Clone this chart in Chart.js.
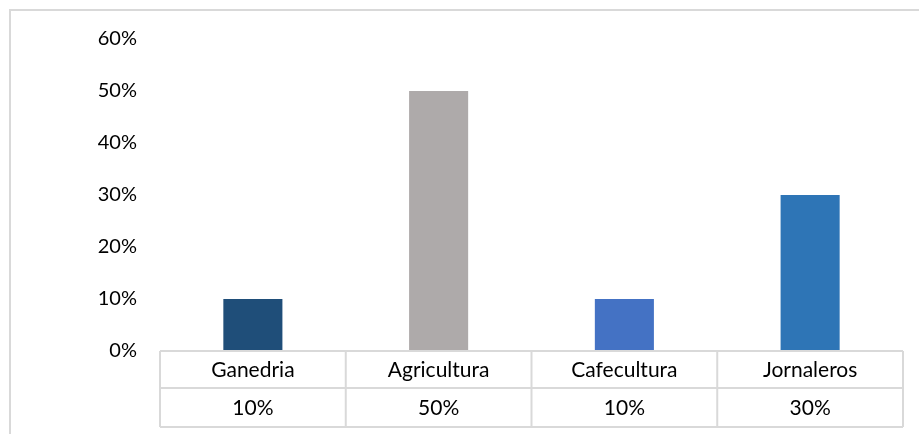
<!DOCTYPE html>
<html>
<head>
<meta charset="utf-8">
<script src="https://cdn.jsdelivr.net/npm/chart.js@4/dist/chart.umd.min.js"></script>
<style>
  html, body { margin: 0; padding: 0; background: #fff; }
  #wrap { width: 919px; height: 434px; position: relative; }
</style>
</head>
<body>
<div id="wrap"><canvas id="chart"></canvas></div>
<script>
  // data
  const categories = ["Ganedria", "Agricultura", "Cafecultura", "Jornaleros"];
  const values = [10, 50, 10, 30];
  const yTicks = [0, 10, 20, 30, 40, 50, 60];

  const barColors = ["#1F4E79", "#AEAAAA", "#4472C4", "#2E75B6"];
  const lineGray = "#D9D9D9";
  const fontFamily = "Lato, 'Liberation Sans', sans-serif";
  const tableFontSize = 21;
  const tickFontSize = 20;

  // table under the bars + outer border
  const dataTable = {
    id: "dataTable",
    beforeDraw(chart) {
      const ctx = chart.ctx;
      ctx.save();
      ctx.strokeStyle = lineGray;
      ctx.lineWidth = 2;
      ctx.beginPath();
      ctx.moveTo(10, 440);
      ctx.lineTo(10, 10);
      ctx.lineTo(930, 10);
      ctx.stroke();
      ctx.restore();
    },
    afterDraw(chart) {
      const ctx = chart.ctx;
      const area = chart.chartArea;
      const x = chart.scales.x;
      const n = categories.length;
      const step = (area.right - area.left) / n;
      const rowH = [37, 39];
      const top = area.bottom;
      const mid = top + rowH[0];
      const bottom = mid + rowH[1];

      ctx.save();
      ctx.strokeStyle = lineGray;
      ctx.lineWidth = 2;
      ctx.beginPath();
      [top, mid, bottom].forEach(function (y) {
        ctx.moveTo(area.left, y);
        ctx.lineTo(area.right, y);
      });
      for (let i = 0; i <= n; i++) {
        const xx = area.left + step * i;
        ctx.moveTo(xx, top);
        ctx.lineTo(xx, bottom);
      }
      ctx.stroke();

      ctx.fillStyle = "#000";
      ctx.font = tableFontSize + "px " + fontFamily;
      ctx.textAlign = "center";
      ctx.textBaseline = "middle";
      categories.forEach(function (c, i) {
        const cx = x.getPixelForValue(i);
        ctx.fillText(c, cx, (top + mid) / 2 + 1);
        ctx.fillText(values[i] + "%", cx, (mid + bottom) / 2 + 1);
      });
      ctx.restore();
    },
  };

  const chart = new Chart(document.getElementById("chart"), {
    type: "bar",
    data: {
      labels: categories,
      datasets: [
        {
          data: values,
          backgroundColor: barColors,
          borderWidth: 0,
          barPercentage: 0.318,
          categoryPercentage: 1,
        },
      ],
    },
    options: {
      responsive: true,
      maintainAspectRatio: false,
      animation: false,
      layout: {
        padding: { left: 0, right: 16, top: 39, bottom: 83 },
      },
      plugins: {
        legend: { display: false },
        tooltip: { enabled: false },
      },
      scales: {
        x: {
          display: false,
        },
        y: {
          min: yTicks[0],
          max: yTicks[yTicks.length - 1],
          afterFit: function (scale) {
            scale.width = 160;
          },
          afterBuildTicks: function (scale) {
            scale.ticks = yTicks.map(function (v) {
              return { value: v };
            });
          },
          grid: { display: false, drawTicks: false },
          border: { display: false },
          ticks: {
            padding: 23,
            color: "#000",
            font: { family: fontFamily, size: tickFontSize },
            callback: function (v) {
              return v + "%";
            },
          },
        },
      },
    },
    plugins: [dataTable],
  });
</script>
</body>
</html>
